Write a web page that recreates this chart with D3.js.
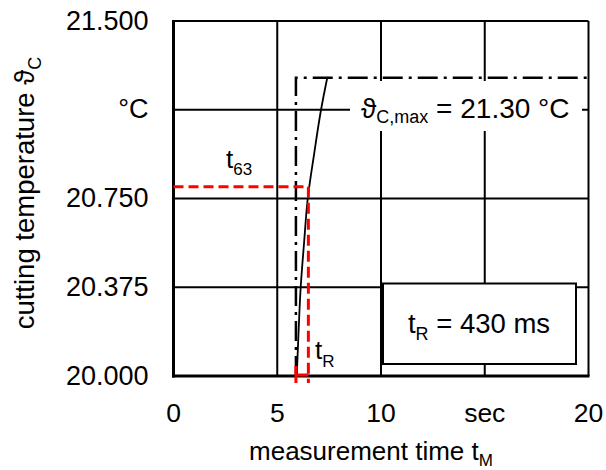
<!DOCTYPE html>
<html>
<head>
<meta charset="utf-8">
<script src="https://cdn.jsdelivr.net/npm/d3@7"></script>
<style>
  body { margin: 0; background: #fff; }
  text { font-family: "Liberation Sans", Arial, sans-serif; fill: #000; }
</style>
</head>
<body>
<script>
let width = 606;
let height = 470;

// axis ticks
const xTicks = [0, 5, 10, 15, 20];
const xTickLabels = ["0", "5", "10", "sec", "20"];
const yTicks = [20, 20.375, 20.75, 21.125, 21.5];
const yTickLabels = ["20.000", "20.375", "20.750", "°C", "21.500"];

const curveTime = [5.94, 6.01, 6.13, 6.29, 6.47, 6.78, 7.11, 7.41];
const curveTemp = [20.0, 20.15, 20.375, 20.56, 20.75, 20.94, 21.125, 21.26];

// reference values
const tStart = 5.9;
const tempMax = 21.26;
const t63 = 6.5;
const temp63 = 20.8;

let svg = d3.select("body")
    .append("svg")
    .attr("width", width)
    .attr("height", height);

let x = d3.scaleLinear().domain([0, 20]).range([173.5, 588.5]);
let y = d3.scaleLinear().domain([20, 21.5]).range([376, 21]);

// grid
svg.selectAll(".vgrid")
    .data(xTicks.slice(1, -1))
    .enter().append("line")
    .attr("class", "vgrid")
    .attr("x1", d => x(d)).attr("x2", d => x(d))
    .attr("y1", y(20)).attr("y2", y(21.5))
    .attr("stroke", "#000").attr("stroke-width", 2);

svg.selectAll(".hgrid")
    .data(yTicks.slice(1, -1))
    .enter().append("line")
    .attr("class", "hgrid")
    .attr("x1", x(0)).attr("x2", x(20))
    .attr("y1", d => y(d)).attr("y2", d => y(d))
    .attr("stroke", "#000").attr("stroke-width", 2);

// frame
svg.append("line").attr("x1", x(0)).attr("x2", x(20)).attr("y1", y(21.5)).attr("y2", y(21.5))
    .attr("stroke", "#000").attr("stroke-width", 2);
svg.append("line").attr("x1", x(20)).attr("x2", x(20)).attr("y1", y(20)).attr("y2", y(21.5))
    .attr("stroke", "#000").attr("stroke-width", 2);
svg.append("line").attr("x1", x(0)).attr("x2", x(0)).attr("y1", y(20) + 1.5).attr("y2", y(21.5) - 1)
    .attr("stroke", "#000").attr("stroke-width", 3);
svg.append("line").attr("x1", x(0) - 1.5).attr("x2", x(20) + 1).attr("y1", y(20)).attr("y2", y(20))
    .attr("stroke", "#000").attr("stroke-width", 3);

// curve
let points = curveTime.map((t, i) => [t, curveTemp[i]]);
let line = d3.line()
    .x(d => x(d[0]))
    .y(d => y(d[1]))
    .curve(d3.curveMonotoneY);

svg.append("path")
    .datum(points)
    .attr("d", line)
    .attr("fill", "none")
    .attr("stroke", "#000")
    .attr("stroke-width", 1.8);

// dash-dot max lines
svg.append("path")
    .attr("d", d3.line()([[x(tStart), y(20)], [x(tStart), y(tempMax)], [x(20), y(tempMax)]]))
    .attr("fill", "none")
    .attr("stroke", "#000")
    .attr("stroke-width", 2.5)
    .attr("stroke-dasharray", "20,6,3,6");

// label for max temperature
svg.append("rect")
    .attr("x", 350).attr("y", 81)
    .attr("width", 232).attr("height", 50)
    .attr("fill", "#fff");

let maxLabel = svg.append("text")
    .attr("x", 361)
    .attr("y", 118)
    .style("font-size", "28px");
maxLabel.append("tspan").text("ϑ");
maxLabel.append("tspan").attr("dy", 5).style("font-size", "18px").text("C,max");
maxLabel.append("tspan").attr("dy", -5).text(" = 21.30 °C");

// red t63 / tR construction
let red = "#ff0000";
svg.append("line")
    .attr("x1", x(0)).attr("x2", x(t63))
    .attr("y1", y(temp63)).attr("y2", y(temp63))
    .attr("stroke", red).attr("stroke-width", 3)
    .attr("stroke-dasharray", "10,5");
svg.append("line")
    .attr("x1", x(t63)).attr("x2", x(t63))
    .attr("y1", y(temp63)).attr("y2", y(20) + 7)
    .attr("stroke", red).attr("stroke-width", 3)
    .attr("stroke-dasharray", "11,5");
svg.append("line")
    .attr("x1", x(tStart)).attr("x2", x(tStart))
    .attr("y1", y(20) - 10).attr("y2", y(20) + 7)
    .attr("stroke", red).attr("stroke-width", 3);
svg.append("line")
    .attr("x1", x(tStart)).attr("x2", x(t63))
    .attr("y1", y(20) - 1).attr("y2", y(20) - 1)
    .attr("stroke", red).attr("stroke-width", 3);

let t63Label = svg.append("text")
    .attr("x", 226)
    .attr("y", 168)
    .style("font-size", "26px");
t63Label.append("tspan").text("t");
t63Label.append("tspan").attr("dy", 7).style("font-size", "17px").text("63");

let tRLabel = svg.append("text")
    .attr("x", 315)
    .attr("y", 359)
    .style("font-size", "26px");
tRLabel.append("tspan").text("t");
tRLabel.append("tspan").attr("dy", 8).style("font-size", "17px").text("R");

// tR box
svg.append("rect")
    .attr("x", 383).attr("y", 283.5)
    .attr("width", 193).attr("height", 80.5)
    .attr("fill", "#fff")
    .attr("stroke", "#000")
    .attr("stroke-width", 2);

let boxLabel = svg.append("text")
    .attr("x", 479)
    .attr("y", 333)
    .attr("text-anchor", "middle")
    .style("font-size", "27.5px");
boxLabel.append("tspan").text("t");
boxLabel.append("tspan").attr("dy", 7).style("font-size", "18px").text("R");
boxLabel.append("tspan").attr("dy", -7).text(" = 430 ms");

// tick labels
svg.selectAll(".xlabel")
    .data(xTicks)
    .enter().append("text")
    .attr("class", "xlabel")
    .attr("x", d => x(d))
    .attr("y", 422)
    .attr("text-anchor", "middle")
    .style("font-size", "26.5px")
    .text((d, i) => xTickLabels[i]);

svg.selectAll(".ylabel")
    .data(yTicks)
    .enter().append("text")
    .attr("class", "ylabel")
    .attr("x", 148.5)
    .attr("y", d => y(d) + 8.5)
    .attr("text-anchor", "end")
    .style("font-size", "27px")
    .text((d, i) => yTickLabels[i]);

// axis titles
let xTitle = svg.append("text")
    .attr("x", 371)
    .attr("y", 460)
    .attr("text-anchor", "middle")
    .style("font-size", "26px");
xTitle.append("tspan").text("measurement time t");
xTitle.append("tspan").attr("dy", 6).style("font-size", "17px").text("M");

let yTitle = svg.append("text")
    .attr("transform", "translate(34,193) rotate(-90)")
    .attr("text-anchor", "middle")
    .style("font-size", "27.5px");
yTitle.append("tspan").text("cutting temperature ϑ");
yTitle.append("tspan").attr("dy", 7).style("font-size", "18px").text("C");
</script>
</body>
</html>
